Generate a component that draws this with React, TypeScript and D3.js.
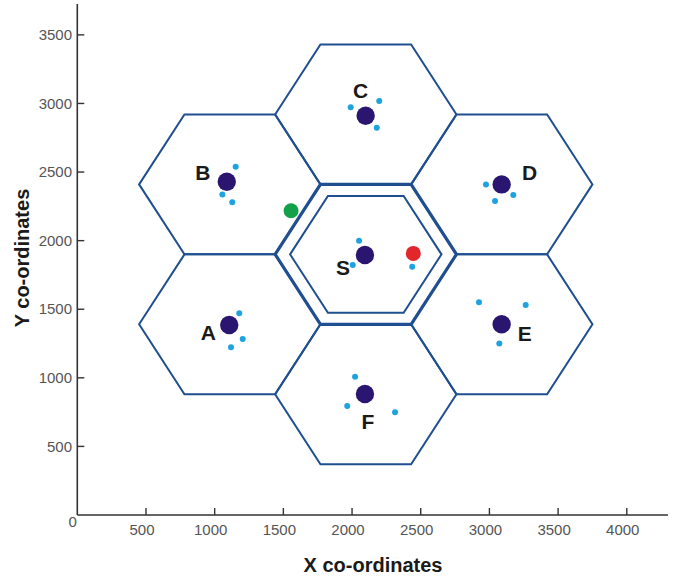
import React from "react";
import * as d3 from "d3";

// ---- data (data units) ----
const cellNames = ["S", "A", "B", "C", "D", "E", "F"];
const cellCentersX = [2100, 1110, 1110, 2100, 3090, 3090, 2100];
const cellCentersY = [1900, 1390, 2410, 2920, 2410, 1390, 880];
const cellHalfWidth = 660;
const cellHalfHeight = 510;
const innerScale = 0.835;

const stationNames = ["S", "A", "B", "C", "D", "E", "F"];
const stationX = [2094, 1106, 1088, 2099, 3089, 3089, 2094];
const stationY = [1895, 1385, 2429, 2910, 2410, 1390, 882];

const userX = [2051, 2005, 2438, 1153, 1056, 1128, 1990, 2198, 2180, 1179, 1204, 1119, 2975, 3174, 3041, 2924, 3264, 3072, 2022, 1965, 2313];
const userY = [1999, 1822, 1810, 2539, 2337, 2279, 2972, 3017, 2823, 1470, 1283, 1222, 2410, 2332, 2289, 1550, 1531, 1251, 1008, 794, 749];

const greenPoint = [1556, 2218];
const redPoint = [2446, 1907];

const xTicks = [500, 1000, 1500, 2000, 2500, 3000, 3500, 4000];
const yTicks = [500, 1000, 1500, 2000, 2500, 3000, 3500];
const xTitle = "X co-ordinates";
const yTitle = "Y co-ordinates";

// ---- layout ----
const W = 677;
const H = 578;
const x = d3.scaleLinear().domain([0, 4300]).range([77.3, 668]);
const y = d3.scaleLinear().domain([0, 3725]).range([515, 4]);
const labelOffsets: Record<string, [number, number]> = {
  S: [-22, 12],
  A: [-21, 7],
  B: [-24, -9],
  C: [-5, -25],
  D: [28, -12],
  E: [23, 9],
  F: [3, 27],
};

const HEX = "#1f4f8f";
const NAVY = "#2a1670";
const LIGHT = "#1ea3e0";
const FONT = "'Liberation Sans', Arial, sans-serif";

function hexPath(cx: number, cy: number, rx: number, ry: number) {
  const pts: [number, number][] = [
    [cx - rx, cy],
    [cx - rx / 2, cy + ry],
    [cx + rx / 2, cy + ry],
    [cx + rx, cy],
    [cx + rx / 2, cy - ry],
    [cx - rx / 2, cy - ry],
  ];
  const line = d3.line<[number, number]>().x((p) => x(p[0])).y((p) => y(p[1])).curve(d3.curveLinearClosed);
  return line(pts) as string;
}

export default function App() {
  const y0 = y(0);
  const x0 = x(0);
  return (
    <svg width={W} height={H} style={{ position: "absolute", left: 0, top: 0, background: "#fff" }} fontFamily={FONT}>
      {/* hexagons */}
      {cellNames.map((n, i) =>
        n === "S" ? null : (
          <path key={n} d={hexPath(cellCentersX[i], cellCentersY[i], cellHalfWidth, cellHalfHeight)} fill="none" stroke={HEX} strokeWidth={2} strokeLinejoin="miter" />
        )
      )}
      <path d={hexPath(cellCentersX[0], cellCentersY[0], cellHalfWidth, cellHalfHeight)} fill="none" stroke={HEX} strokeWidth={3.2} />
      <path d={hexPath(cellCentersX[0], cellCentersY[0], cellHalfWidth * innerScale, cellHalfHeight * innerScale)} fill="none" stroke={HEX} strokeWidth={2} />

      {/* users */}
      {userX.map((ux, i) => (
        <circle key={"u" + i} cx={x(ux)} cy={y(userY[i])} r={3} fill={LIGHT} />
      ))}
      {/* stations */}
      {stationX.map((sx, i) => (
        <circle key={"s" + i} cx={x(sx)} cy={y(stationY[i])} r={9.2} fill={NAVY} />
      ))}
      <circle cx={x(greenPoint[0])} cy={y(greenPoint[1])} r={7.5} fill="#12a04a" />
      <circle cx={x(redPoint[0])} cy={y(redPoint[1])} r={7.5} fill="#e3262a" />

      {/* station labels */}
      {stationNames.map((n, i) => (
        <text key={"l" + n} x={x(stationX[i]) + labelOffsets[n][0]} y={y(stationY[i]) + labelOffsets[n][1]} dy="0.36em" textAnchor="middle" fontSize={21} fontWeight="bold" fill="#1a1a1a">
          {n}
        </text>
      ))}

      {/* axes */}
      <line x1={x0} y1={y0} x2={x(4300)} y2={y0} stroke="#333" strokeWidth={1.6} />
      <line x1={x0} y1={y0} x2={x0} y2={y(3725)} stroke="#333" strokeWidth={1.6} />
      {xTicks.map((t) => (
        <g key={"xt" + t}>
          <line x1={x(t)} x2={x(t)} y1={y0} y2={y0 - 7} stroke="#333" strokeWidth={1.4} />
          <text x={x(t) - 4} y={535} textAnchor="middle" fontSize={15} fill="#555">
            {t}
          </text>
        </g>
      ))}
      {yTicks.map((t) => (
        <g key={"yt" + t}>
          <line x1={x0} x2={x0 + 7} y1={y(t)} y2={y(t)} stroke="#333" strokeWidth={1.4} />
          <text x={72} y={y(t)} dy="0.35em" textAnchor="end" fontSize={15} fill="#555">
            {t}
          </text>
        </g>
      ))}
      <text x={72.7} y={526.5} textAnchor="middle" fontSize={15} fill="#555">0</text>
      <text x={373} y={572} textAnchor="middle" fontSize={20} fontWeight="bold" fill="#1a1a1a">
        {xTitle}
      </text>
      <text transform={`translate(28.5, 258) rotate(-90)`} textAnchor="middle" fontSize={20} fontWeight="bold" fill="#1a1a1a">
        {yTitle}
      </text>
    </svg>
  );
}
